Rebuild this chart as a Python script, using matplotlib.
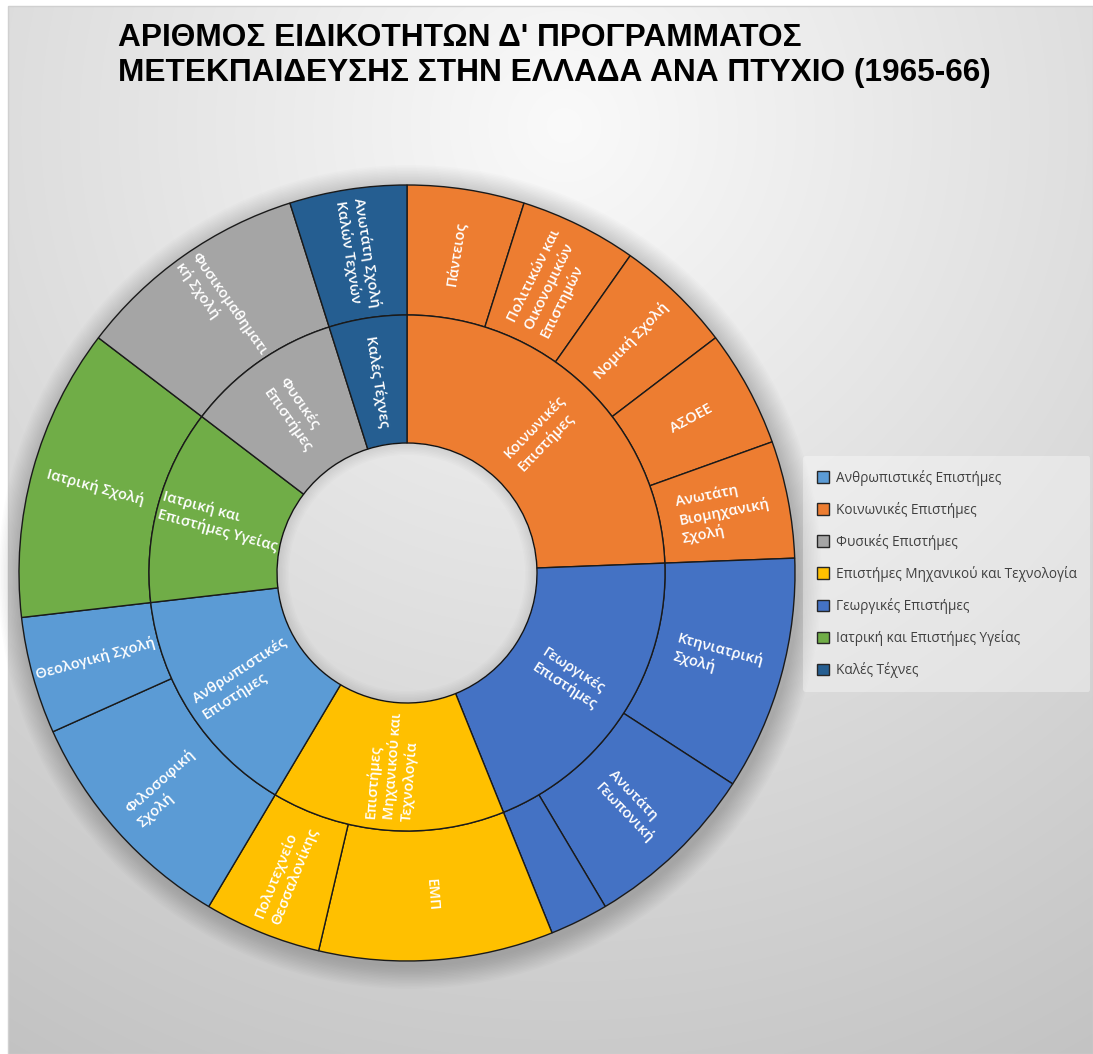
import numpy as np
import matplotlib
matplotlib.use("Agg")
import matplotlib.pyplot as plt
from matplotlib.patches import Patch, Wedge, Rectangle

plt.rcParams['font.family'] = ['Open Sans', 'DejaVu Sans']

# data: fields (inner ring) and schools (outer ring)
fields = ['Κοινωνικές Επιστήμες', 'Γεωργικές Επιστήμες',
          'Επιστήμες Μηχανικού και Τεχνολογία', 'Ανθρωπιστικές Επιστήμες',
          'Ιατρική και Επιστήμες Υγείας', 'Φυσικές Επιστήμες', 'Καλές Τέχνες']
field_text = ['Κοινωνικές\nΕπιστήμες', 'Γεωργικές\nΕπιστήμες',
              'Επιστήμες\nΜηχανικού και\nΤεχνολογία', 'Ανθρωπιστικές\nΕπιστήμες',
              'Ιατρική και\nΕπιστήμες Υγείας', 'Φυσικές\nΕπιστήμες', 'Καλές Τέχνες']

schools = ['Πάντειος', 'Πολιτικών και Οικονομικών Επιστημών', 'Νομική Σχολή',
           'ΑΣΟΕΕ', 'Ανωτάτη Βιομηχανική Σχολή',
           'Κτηνιατρική Σχολή', 'Ανωτάτη Γεωπονική', '',
           'ΕΜΠ', 'Πολυτεχνείο Θεσσαλονίκης',
           'Φιλοσοφική Σχολή', 'Θεολογική Σχολή',
           'Ιατρική Σχολή', 'Φυσικομαθηματική Σχολή', 'Ανωτάτη Σχολή Καλών Τεχνών']
school_text = ['Πάντειος', 'Πολιτικών και\nΟικονομικών\nΕπιστημών', 'Νομική Σχολή',
               'ΑΣΟΕΕ', 'Ανωτάτη\nΒιομηχανική\nΣχολή',
               'Κτηνιατρική\nΣχολή', 'Ανωτάτη\nΓεωπονική', '',
               'ΕΜΠ', 'Πολυτεχνείο\nΘεσσαλονίκης',
               'Φιλοσοφική\nΣχολή', 'Θεολογική Σχολή',
               'Ιατρική Σχολή', 'Φυσικομαθηματι\nκή Σχολή', 'Ανωτάτη Σχολή\nΚαλών Τεχνών']
school_values = [2, 2, 2, 2, 2, 4, 3, 1, 4, 2, 4, 2, 5, 4, 2]
school_field = [0, 0, 0, 0, 0, 1, 1, 1, 2, 2, 3, 3, 4, 5, 6]

legend_order = ['Ανθρωπιστικές Επιστήμες', 'Κοινωνικές Επιστήμες', 'Φυσικές Επιστήμες',
                'Επιστήμες Μηχανικού και Τεχνολογία', 'Γεωργικές Επιστήμες',
                'Ιατρική και Επιστήμες Υγείας', 'Καλές Τέχνες']
colors = {'Ανθρωπιστικές Επιστήμες': '#5B9BD5',
          'Κοινωνικές Επιστήμες': '#ED7D31',
          'Φυσικές Επιστήμες': '#A5A5A5',
          'Επιστήμες Μηχανικού και Τεχνολογία': '#FFC000',
          'Γεωργικές Επιστήμες': '#4472C4',
          'Ιατρική και Επιστήμες Υγείας': '#70AD47',
          'Καλές Τέχνες': '#255E91'}

field_values = [sum(v for v, f in zip(school_values, school_field) if f == i)
                for i in range(len(fields))]
field_colors = [colors[f] for f in fields]
school_colors = [colors[fields[f]] for f in school_field]

W, H = 1093, 1054
fig = plt.figure(figsize=(W / 100, H / 100), dpi=100)
fig.patch.set_facecolor('white')
ax = fig.add_axes([0, 0, 1, 1])

# gradient background
yy, xx = np.mgrid[0:H, 0:W]
dist = np.hypot(xx - 560, yy - 120)
bg = np.clip(0.98 - 0.0002 * dist, 0, 1)
ax.imshow(np.dstack([bg, bg, bg]), extent=(8, W, 0, H - 6), origin='upper',
          zorder=0, aspect='auto')
ax.add_patch(Rectangle((8, 0), W - 8, H - 6, fill=False, ec='#d0d0d0', lw=1, zorder=1))

cx, cy = 407, H - 573
r_out, r_mid, r_in = 388, 258, 130

# soft shadow outside the ring and inside the hole
for i in range(16):
    ax.add_patch(Wedge((cx + 3, cy - 4), r_out + 1.5 * (i + 1), 0, 360,
                       width=1.5 * (i + 1) + 10, color='black', alpha=0.012, lw=0, zorder=1))
for i in range(8):
    ax.add_patch(Wedge((cx, cy), r_in, 0, 360, width=1.5 * (i + 1),
                       color='black', alpha=0.012, lw=0, zorder=3))

wp = dict(edgecolor='#1a1a1a', linewidth=1.0)
ax.pie(school_values, radius=r_out, center=(cx, cy), startangle=90, counterclock=False,
       colors=school_colors, wedgeprops=dict(width=r_out - r_mid, **wp))
ax.pie(field_values, radius=r_mid, center=(cx, cy), startangle=90, counterclock=False,
       colors=field_colors, wedgeprops=dict(width=r_mid - r_in, **wp))


def put_labels(values, texts, radius):
    total = sum(values)
    cum = np.cumsum(values)
    for v, c, t in zip(values, cum, texts):
        if not t:
            continue
        th = 360.0 * (c - v / 2) / total
        x = cx + radius * np.sin(np.radians(th))
        y = cy + radius * np.cos(np.radians(th))
        rot = 90 - th if th < 180 else 270 - th
        ax.text(x, y, t, rotation=rot, rotation_mode='anchor', ha='center',
                va='center', multialignment='left', color='white',
                fontsize=10.5, fontweight='semibold', linespacing=1.3, zorder=5)


put_labels(school_values, school_text, (r_out + r_mid) / 2)
put_labels(field_values, field_text, (r_mid + r_in) / 2)

ax.set_xlim(0, W)
ax.set_ylim(0, H)
ax.set_aspect('equal')
ax.axis('off')

handles = [Patch(facecolor=colors[f], edgecolor='#262626', linewidth=1) for f in legend_order]
leg = fig.legend(handles, legend_order, loc='upper left',
                 bbox_to_anchor=(803 / W, 1 - 456 / H), frameon=True,
                 fontsize=9.8, labelcolor='#404040', handlelength=0.9,
                 handleheight=0.9, handletextpad=0.5, labelspacing=1.18,
                 borderpad=1.0, borderaxespad=0)
leg.get_frame().set_facecolor('white')
leg.get_frame().set_alpha(0.35)
leg.get_frame().set_edgecolor('none')

fig.text(118 / W, 1 - 23 / H,
         "ΑΡΙΘΜΟΣ ΕΙΔΙΚΟΤΗΤΩΝ Δ' ΠΡΟΓΡΑΜΜΑΤΟΣ\nΜΕΤΕΚΠΑΙΔΕΥΣΗΣ ΣΤΗΝ ΕΛΛΑΔΑ ΑΝΑ ΠΤΥΧΙΟ (1965-66)",
         ha='left', va='top', fontsize=22.8, fontweight='bold',
         family=['Liberation Sans', 'DejaVu Sans'], linespacing=1.22, color='black')

fig.savefig('out.png', dpi=100)
